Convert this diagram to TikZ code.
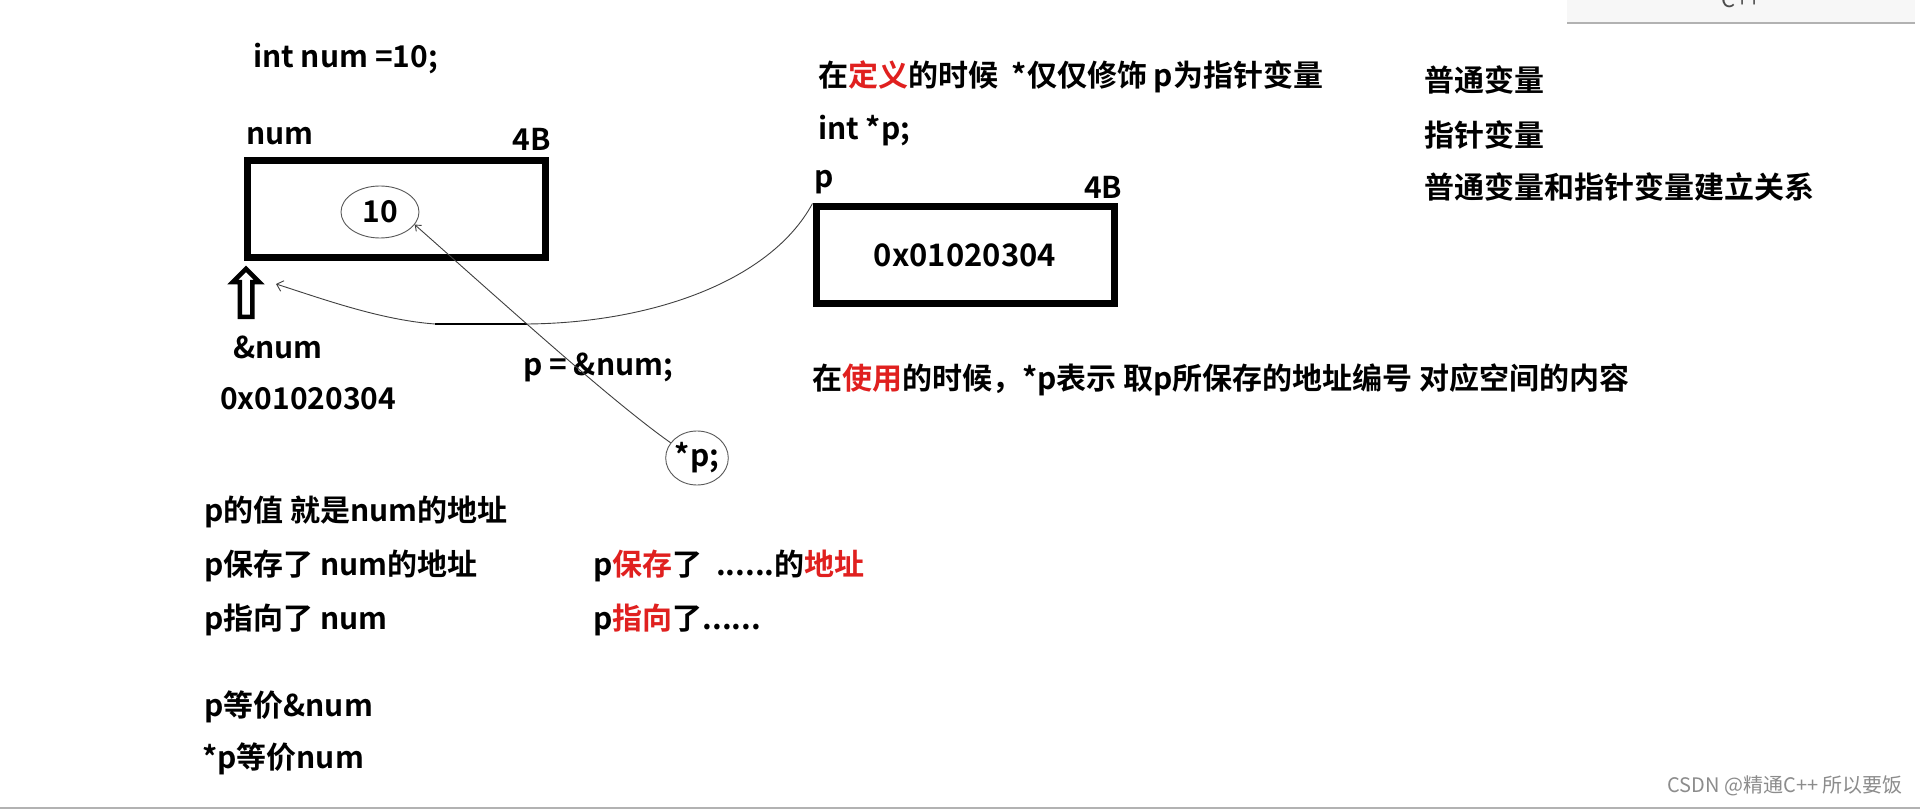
\documentclass[tikz,border=0pt]{standalone}
\usepackage{fontspec}
\setmainfont{Noto Sans CJK SC Bold}
\newfontfamily\lightfont{Noto Sans CJK SC}
\usetikzlibrary{arrows.meta, positioning, shapes.geometric, shapes.arrows}
\definecolor{hlred}{HTML}{E0201F}
\newcommand{\hl}[1]{\textcolor{hlred}{#1}}

\begin{document}
\begin{tikzpicture}[x=1pt, y=-1pt,
  txt/.style={anchor=west, inner sep=0pt, font=\fontsize{30}{36}\selectfont},
  mem/.style={draw, line width=7pt, minimum width=298pt, minimum height=97pt,
              inner sep=0pt, font=\fontsize{31}{36}\selectfont},
  ring/.style={draw=black!65, line width=0.9pt, ellipse, inner sep=0pt,
               font=\fontsize{30}{36}\selectfont},
  hollow/.style={draw, single arrow, rotate=90, line width=4.5pt, inner sep=4pt,
                 minimum height=48pt, single arrow head extend=7pt},
  link/.style={black!75, line width=0.9pt},
  tip/.style={-{Straight Barb[length=6pt, width=11pt]}}
]
\useasboundingbox (0,0) rectangle (1920,810);
\clip (0,0) rectangle (1920,810);
\fill[white] (0,0) rectangle (1920,810);

% left: num and its address
\node[txt] (defnum) at (253,59) {int num =10;};
\node[mem] (numbox) at (396.5,209) {};
\node[txt, above right=12pt and 2pt of numbox.north west] (numname) {num};
\node[txt, above left=6pt and -2pt of numbox.north east] (numsize) {4B};
\node[ring, minimum width=78pt, minimum height=52pt] (ten) at (380,212) {10};
\node[hollow] (uparrow) at (246,296) {};
\node[txt] (addrname) at (233,347) {\&num};
\node[txt] (addrval) at (220,399) {0x01020304};
\node[txt] (assign) at (523,367) {p = \&num;};
\node[ring, minimum width=58pt, minimum height=54pt] (deref) at (697,458) {*p;};

% right: the pointer p
\node[txt] (defnote) at (818,77) {在\hl{定义}的时候\ \ *仅仅修饰 p为指针变量};
\node[txt] (defp) at (818,131) {int *p;};
\node[mem] (pbox) at (965,255.5) {\raisebox{-10pt}{0x01020304}};
\node[txt, above right=9pt and 2pt of pbox.north west] (pname) {p};
\node[txt, above left=5pt and -5pt of pbox.north east] (psize) {4B};
\node[txt] (usenote) at (812,380) {在\hl{使用}的时候，*p表示 取p所保存的地址编号 对应空间的内容};

\node[txt] (plainvar) at (1424,80) {普通变量};
\node[txt] (ptrvar) at (1424,135) {指针变量};
\node[txt] (relation) at (1424,187) {普通变量和指针变量建立关系};

% bottom: what p means
\node[txt] (value) at (204,512) {p的值 就是num的地址};
\node[txt] (saves) at (204,566) {p保存了 num的地址};
\node[txt] (points) at (204,620) {p指向了 num};
\node[txt] (sameaddr) at (204,707) {p等价\&num};
\node[txt] (sameval) at (202,759) {*p等价num};
\node[txt] (saveshint) at (593,566) {p\hl{保存}了\ \ ......的\hl{地址}};
\node[txt] (pointshint) at (593,620) {p\hl{指向}了......};

% hand drawn links
\coordinate (sag) at (527,324);
\coordinate (sagend) at (435,324);
\coordinate (addrtip) at (276,284);
\draw[link, tip] (pbox.north west) .. controls (770,282) and (650,323) .. (sag)
  -- (sagend) .. controls (380,320) and (320,298) .. (addrtip);
\draw[line width=2.5pt] (sagend) -- (sag);
\draw[link, -{Straight Barb[length=5pt, width=8pt]}] (deref.150)
  .. controls (610,400) and (500,300) .. (ten.-20);

% window bits
\node[fill=black!3, minimum width=348pt, minimum height=46pt, inner sep=0pt,
      anchor=south west, text=black!70, font=\lightfont\fontsize{22}{24}\selectfont]
      (tab) at (1567,23) {C++};
\draw[black!30, line width=1.5pt] (tab.south west) -- (tab.south east);
\node[anchor=east, inner sep=0pt, text=black!45,
      font=\lightfont\fontsize{20}{22}\selectfont] (mark) at (1903,786)
      {CSDN @精通C++ 所以要饭};
\draw[black!30, line width=1.5pt] (0,808) -- (1920,808);
\end{tikzpicture}
\end{document}
